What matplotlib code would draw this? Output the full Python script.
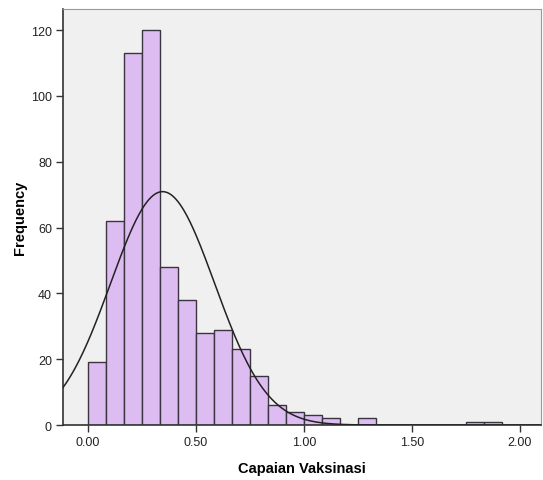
import numpy as np
import matplotlib.pyplot as plt

plt.rcParams['font.family'] = ['Liberation Sans', 'DejaVu Sans']

# histogram bins (width 1/12) and counts
bin_width = 1.0 / 12
bin_left = np.arange(0, 23) * bin_width
counts = [19, 62, 113, 120, 48, 38, 28, 29, 23, 15, 6, 4,
          3, 2, 0, 2, 0, 0, 0, 0, 0, 1, 1]

# normal curve parameters (SPSS overlay)
mean = 0.346
std = 0.241
n = sum(counts)

x_ticks = [0.0, 0.5, 1.0, 1.5, 2.0]
x_ticklabels = ['0.00', '0.50', '1.00', '1.50', '2.00']
y_ticks = [0, 20, 40, 60, 80, 100, 120]

fig = plt.figure(figsize=(5.43, 4.81), dpi=100)
ax = fig.add_axes([0.116, 0.1143, 0.88, 0.865])
ax.set_facecolor('#F0F0F0')

ax.bar(bin_left, counts, width=bin_width, align='edge',
       color='#DDBDF1', edgecolor='#3A3340', linewidth=1.0, zorder=2)

xs = np.linspace(-0.2, 2.2, 500)
ys = n * bin_width / (std * np.sqrt(2 * np.pi)) * np.exp(-0.5 * ((xs - mean) / std) ** 2)
ax.plot(xs, ys, color='#222222', linewidth=1.1, zorder=3)

ax.set_xlim(-0.115, 2.097)
ax.set_ylim(0, 126.4)
ax.set_xticks(x_ticks)
ax.set_xticklabels(x_ticklabels)
ax.set_yticks(y_ticks)
ax.tick_params(direction='out', length=5, width=1, colors='#333333',
               labelsize=9, labelcolor='#222222', pad=3)

for s in ['left', 'bottom']:
    ax.spines[s].set_color('#333333')
    ax.spines[s].set_linewidth(1.2)
for s in ['top', 'right']:
    ax.spines[s].set_color('#999999')
    ax.spines[s].set_linewidth(0.8)

ax.set_xlabel('Capaian Vaksinasi', fontsize=10.5, fontweight='bold', labelpad=9)
ax.set_ylabel('Frequency', fontsize=10.5, fontweight='bold', labelpad=3)

fig.savefig('out.png', dpi=100)
